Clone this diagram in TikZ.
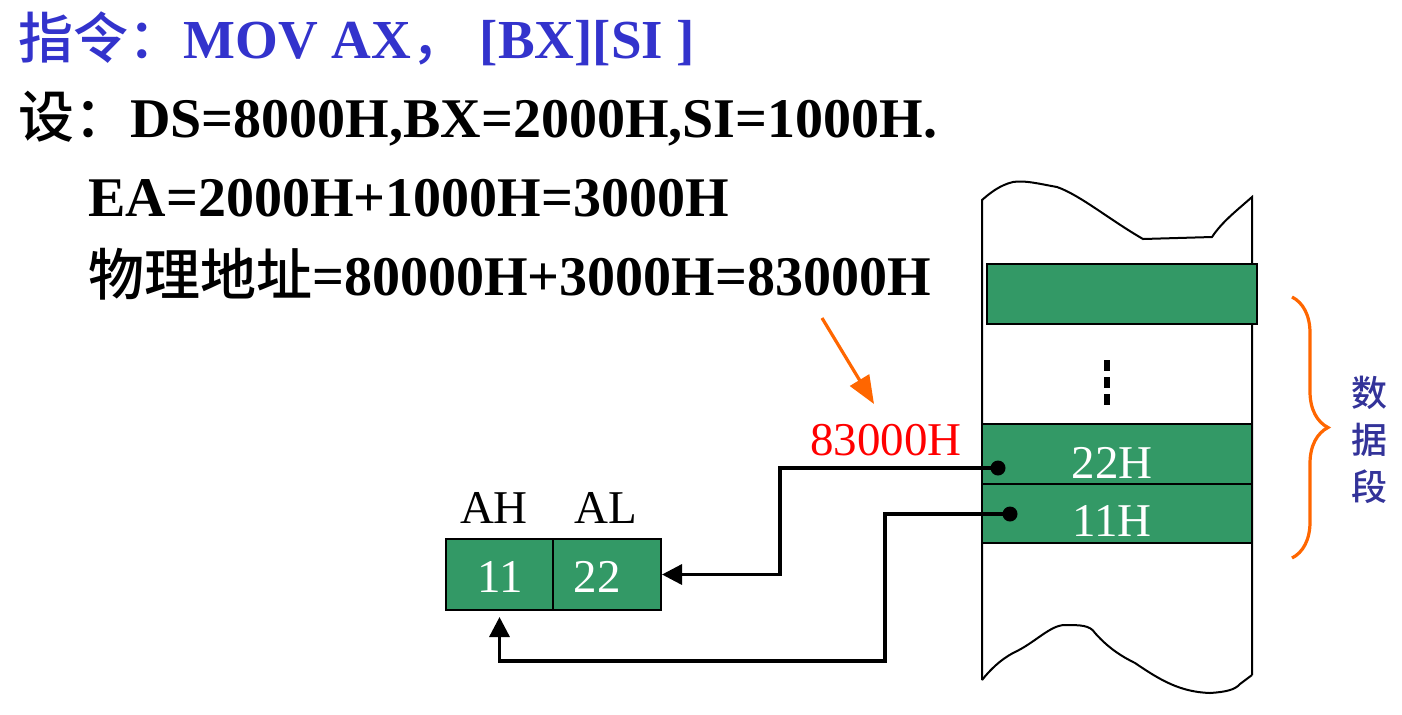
\documentclass[tikz,border=0pt]{standalone}
\usepackage{fontspec}
\setmainfont{Liberation Serif}
\newfontfamily\cjk{Noto Sans CJK SC}[BoldFont={Noto Sans CJK SC Medium}]
\usetikzlibrary{arrows.meta,decorations.pathreplacing}
\definecolor{titleblue}{HTML}{3333CC}
\definecolor{segblue}{HTML}{333399}
\definecolor{cellgreen}{HTML}{339966}
\definecolor{arrorange}{HTML}{FF6600}
\tikzset{
  big/.style={anchor=base west,inner sep=0pt,font=\bfseries\fontsize{28}{28}\selectfont},
  cell/.style={draw=black,line width=1pt,fill=cellgreen,text=white,inner sep=0pt,
    font=\fontsize{23.5}{23.5}\selectfont},
  lbl/.style={anchor=base,inner sep=0pt,font=\fontsize{23.5}{23.5}\selectfont},
  conn/.style={line width=1.7pt,-{Triangle[length=10pt,width=10pt]}},
  memline/.style={line width=1pt},
  dotc/.style={circle,fill=black,inner sep=0pt,minimum size=7.5pt}
}
\begin{document}
\begin{tikzpicture}[x=0.5pt,y=-0.5pt]
\useasboundingbox (0,0) rectangle (1402,714);
% text lines
\node[big,font=\bfseries\fontsize{27.5}{27.5}\selectfont,text=titleblue] (l1) at (18,58)
  {{\cjk 指令：}MOV AX{\cjk ，}\ [BX][SI ]};
\node[big] (l2) at (18,137) {{\cjk 设：}DS=8000H,BX=2000H,SI=1000H.};
\node[big] (l3) at (88,216) {EA=2000H+1000H=3000H};
\node[big] (l4) at (88,295) {{\cjk 物理地址}=80000H+3000H=83000H};
% memory column outline
\draw[memline] (1252,675) -- (1252,197)
  .. controls (1235,212) and (1222,222) .. (1212,237)
  -- (1143,239)
  .. controls (1110,220) and (1080,195) .. (1057,187)
  .. controls (1040,184) and (1025,180) .. (1013,182)
  .. controls (1000,185) and (990,193) .. (982,200)
  -- (982,680);
\draw[memline] (982,680)
  .. controls (990,670) and (1000,660) .. (1013,653)
  .. controls (1035,643) and (1050,625) .. (1065,625)
  .. controls (1080,625) and (1090,625) .. (1095,633)
  .. controls (1110,650) and (1125,658) .. (1135,663)
  .. controls (1160,680) and (1180,692) .. (1210,693)
  .. controls (1225,692) and (1235,690) .. (1240,684)
  -- (1252,675);
% memory cells
\node[cell,minimum width=135pt,minimum height=30pt] (top) at (1122,294) {};
\node[cell,minimum width=135pt,minimum height=30pt] (c22) at (1117,454) {};
\node[cell,minimum width=135pt,minimum height=29.5pt] (c11) at (1117,513.5) {};
\node[lbl,text=white] (t22) at (1112,478) {22H};
\node[lbl,text=white] (t11) at (1112,536) {11H};
\draw[line width=2.6pt,dash pattern=on 5.5pt off 3pt] (1107,360) -- (1107,408);
% register
\node[cell,minimum width=53.5pt,minimum height=35.5pt] (ah) at (499.5,574.5) {};
\node[cell,minimum width=54pt,minimum height=35.5pt] (al) at (607,574.5) {};
\node[lbl,text=white] (v11) at (500,592) {11};
\node[lbl,text=white] (v22) at (597,592) {22};
\node[lbl] (lah) at (494,523) {AH};
\node[lbl] (lal) at (606,523) {AL};
% address label
\node[lbl,text=red] (addr) at (886,455) {83000H};
\coordinate (a0) at (822,318);
\coordinate (a1) at (874,404);
\draw[line width=1.6pt,draw=arrorange,-{Triangle[length=14pt,width=11pt]},fill=arrorange] (a0) -- (a1);
% data dots and connectors
\node[dotc] (d22) at (998,468) {};
\node[dotc] (d11) at (1010,514) {};
\coordinate (k1) at (780,468);
\coordinate (k2) at (885,514);
\coordinate (k3) at (885,661);
\draw[conn] (d22.center) -- (k1) |- (al.east);
\draw[conn,shorten >=3pt] (d11.center) -- (k2) -- (k3) -| (ah.south);
% brace
\draw[draw=arrorange,line width=1.6pt,decorate,decoration={brace,amplitude=18pt}]
  (1292,297) -- (1292,558);
\node[inner sep=0pt,text=segblue,font=\cjk\bfseries\fontsize{18}{18}\selectfont,align=center] (seg) at (1369,440)
  {数\\[5.5pt]据\\[5.5pt]段};
\end{tikzpicture}
\end{document}
